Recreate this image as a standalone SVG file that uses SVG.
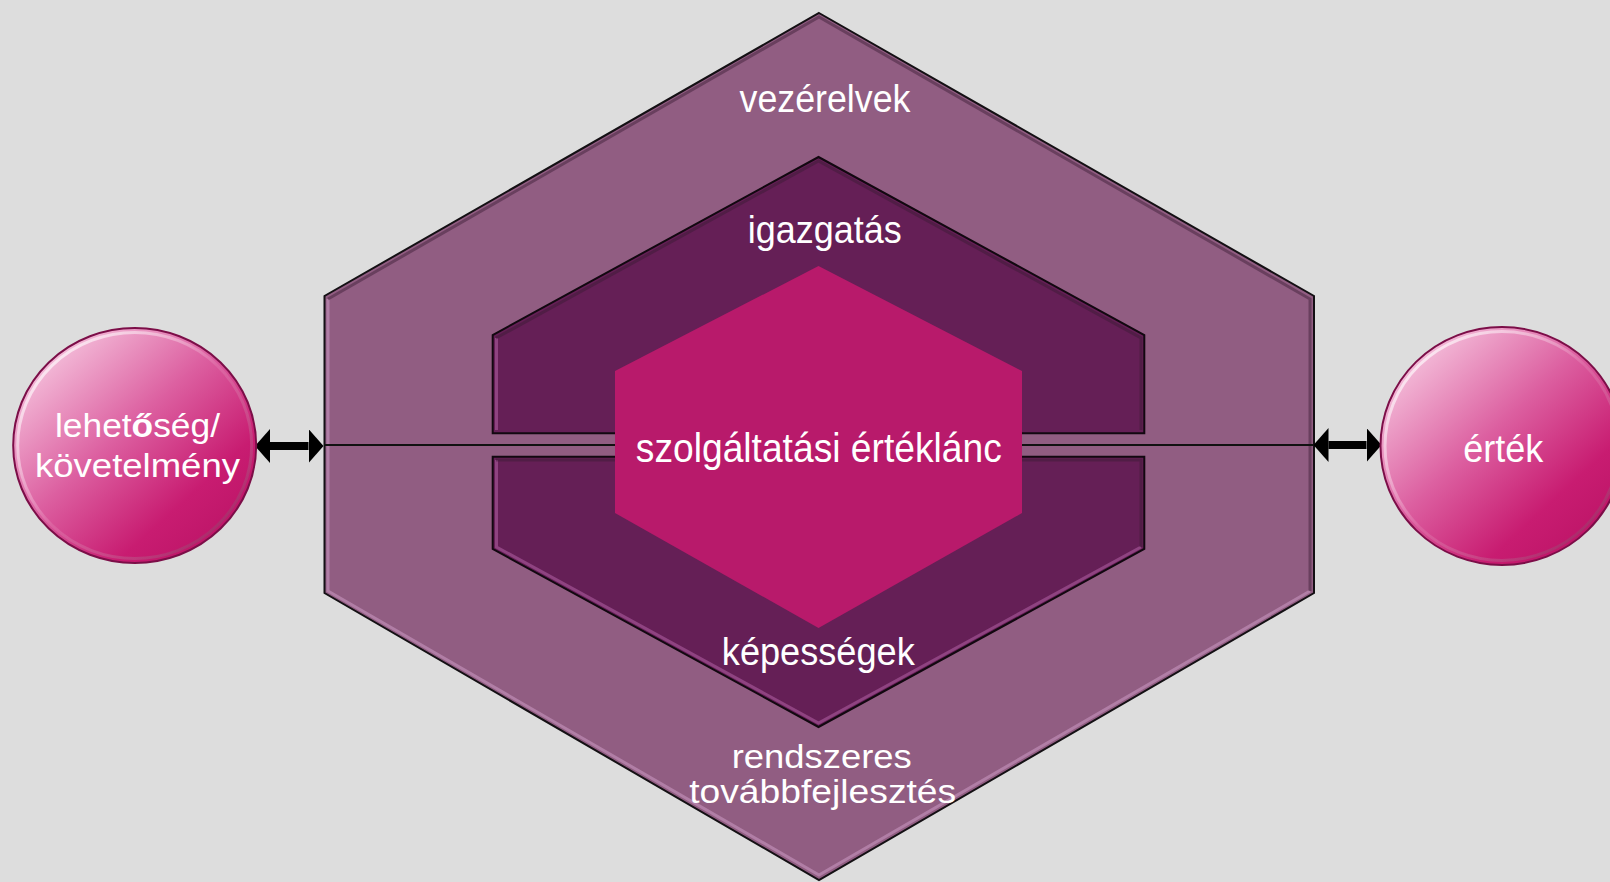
<svg xmlns="http://www.w3.org/2000/svg" width="1610" height="882" viewBox="0 0 1610 882">
  <style>
    .lbl { font-family: "Liberation Sans Narrow", "Liberation Sans", Arial, sans-serif; fill: #ffffff; text-anchor: middle; font-size: 38px; }
    .big { font-size: 41px; }
    .two { font-size: 34px; }
    .outer { fill: #915D82; stroke: #141014; stroke-width: 2; stroke-linejoin: miter; }
    .ring { fill: #651F56; stroke: #120810; stroke-width: 2; }
    .core { fill: #B81A6B; }
    .hl { fill: none; stroke: #BC8AB2; stroke-width: 3; opacity: 0.75; }
    .hl2 { fill: none; stroke: #9A4C8C; stroke-width: 3; opacity: 0.8; }
    .sh { fill: none; stroke: #3a1a34; stroke-width: 3; opacity: 0.45; }
    .thin { fill: none; stroke: #111111; stroke-width: 2; }
    .arrow { fill: none; stroke: #000000; stroke-width: 8; marker-start: url(#ah); marker-end: url(#ah); }
    .ball { fill: url(#ballGrad); stroke: #7C0E48; stroke-width: 2; }
    .ballHi { fill: none; stroke: url(#rimGrad); stroke-width: 3; }
  </style>
  <defs>
    <marker id="ah" markerUnits="userSpaceOnUse" markerWidth="16" markerHeight="34" refX="0" refY="17" orient="auto-start-reverse" viewBox="0 0 16 34">
      <path d="M0,0 L15,17 L0,34 z" fill="#000000"/>
    </marker>
    <linearGradient id="ballGrad" x1="0.1" y1="0.1" x2="0.85" y2="0.9">
      <stop offset="0" stop-color="#F6C6DF"/>
      <stop offset="0.45" stop-color="#DC5FA0"/>
      <stop offset="0.8" stop-color="#C81C71"/>
      <stop offset="1" stop-color="#BE1568"/>
    </linearGradient>
    <linearGradient id="rimGrad" x1="0" y1="0" x2="1" y2="1">
      <stop offset="0" stop-color="#ffffff" stop-opacity="0.85"/>
      <stop offset="0.5" stop-color="#ffffff" stop-opacity="0.1"/>
      <stop offset="1" stop-color="#5a0a34" stop-opacity="0.5"/>
    </linearGradient>
  </defs>

  <rect x="0" y="0" width="1610" height="882" fill="#DDDDDD"/>

  <g id="vezerelvek">
    <polygon class="outer" points="819,13 1314,296 1314,593 819,880 324.5,593 324.5,296"/>
    <polyline class="hl" points="328,299 328,591 819,875 1310,591"/>
    <polyline class="sh" points="328,299 819,17 1310,299 1310,591"/>
    <text class="lbl" x="825" y="111.5" textLength="171" lengthAdjust="spacingAndGlyphs">vezérelvek</text>
  </g>

  <g id="rendszeres-tovabbfejlesztes">
    <text class="lbl two" x="821.7" y="767.5" textLength="180" lengthAdjust="spacingAndGlyphs">rendszeres</text>
    <text class="lbl two" x="822.7" y="803.3" textLength="267" lengthAdjust="spacingAndGlyphs">továbbfejlesztés</text>
  </g>

  <g id="igazgatas">
    <polygon class="ring" points="818.5,157 1144.3,335 1144.3,433.3 492.7,433.3 492.7,335"/>
    <polyline class="hl2" points="496.5,338 496.5,430"/>
    <polyline class="sh" points="496,338 818.5,161 1141,338 1141,430"/>
    <text class="lbl" x="824.7" y="243" textLength="154" lengthAdjust="spacingAndGlyphs">igazgatás</text>
  </g>

  <g id="kepessegek">
    <polygon class="ring" points="492.7,456.7 1144.3,456.7 1144.3,549 818.5,727 492.7,549"/>
    <polyline class="hl2" points="496.5,460 496.5,547 818.5,723 1141,547"/>
    <polyline class="sh" points="496,460 1141,460 1141,547"/>
    <text class="lbl" x="818.3" y="665" textLength="193" lengthAdjust="spacingAndGlyphs">képességek</text>
  </g>

  <g id="connectors">
    <line class="thin" x1="324.5" y1="445" x2="615" y2="445"/>
    <line class="thin" x1="1022" y1="445" x2="1314" y2="445"/>
    <line class="arrow" x1="270" y1="446" x2="308.5" y2="446"/>
    <line class="arrow" x1="1328.5" y1="445" x2="1366.5" y2="445"/>
  </g>

  <g id="szolgaltatasi-erteklanc">
    <polygon class="core" points="818.5,266 1022,371 1022,513 818.5,628 615,513 615,371"/>
    <text class="lbl big" x="818.8" y="461.7" textLength="366" lengthAdjust="spacingAndGlyphs">szolgáltatási értéklánc</text>
  </g>

  <g id="lehetoseg-kovetelmeny">
    <ellipse class="ball" cx="134.7" cy="445.5" rx="121.5" ry="117.5"/>
    <ellipse class="ballHi" cx="134.7" cy="445.5" rx="117" ry="113"/>
    <text class="lbl two" x="137.5" y="436.5" textLength="165" lengthAdjust="spacingAndGlyphs">lehet<tspan font-weight="bold">ő</tspan>ség/</text>
    <text class="lbl two" x="137.5" y="476.7" textLength="205" lengthAdjust="spacingAndGlyphs">követelmény</text>
  </g>

  <g id="ertek">
    <ellipse class="ball" cx="1502" cy="446" rx="121.5" ry="119"/>
    <ellipse class="ballHi" cx="1502" cy="446" rx="117" ry="114.5"/>
    <text class="lbl" x="1503.3" y="461.7" textLength="80" lengthAdjust="spacingAndGlyphs">érték</text>
  </g>
</svg>
